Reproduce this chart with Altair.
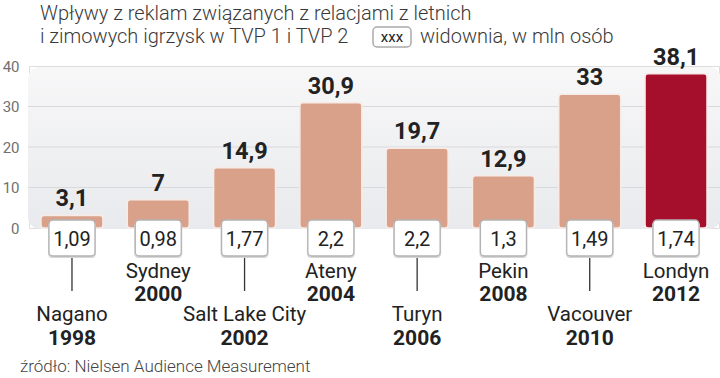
import altair as alt
import pandas as pd

cities = ["Nagano", "Sydney", "Salt Lake City", "Ateny", "Turyn", "Pekin", "Vacouver", "Londyn"]
years = [1998, 2000, 2002, 2004, 2006, 2008, 2010, 2012]
revenue = [3.1, 7, 14.9, 30.9, 19.7, 12.9, 33, 38.1]
viewers = [1.09, 0.98, 1.77, 2.2, 2.2, 1.3, 1.49, 1.74]
y_ticks = [0, 10, 20, 30, 40]
grid_vals = [10, 20, 30]

title1 = "Wpływy z reklam związanych z relacjami z letnich"
title2a = "i zimowych igrzysk w TVP 1 i TVP 2"
legend_box = "xxx"
title2b = "widownia, w mln osób"
source = "źródło: Nielsen Audience Measurement"

df = pd.DataFrame({
    "city": cities,
    "year": [str(y) for y in years],
    "rev": revenue,
    "view": viewers,
})
df["low"] = [i % 2 == 0 for i in range(len(df))]
df["hl"] = [y == max(years) for y in years]

FONT = "Roboto"
W, H = 690, 162

x = alt.X("city:N", sort=None, axis=None,
          scale=alt.Scale(paddingInner=0.282, paddingOuter=0.139))

base = alt.Chart(df)

bg = alt.Chart(pd.DataFrame({"a": [0]})).mark_rect(
    cornerRadius=12,
    color=alt.LinearGradient(
        gradient="linear",
        stops=[alt.GradientStop(color="#f7f7f8", offset=0),
               alt.GradientStop(color="#e9eaed", offset=1)],
        x1=0, x2=0, y1=0, y2=1,
    ),
).encode(x=alt.value(-1), x2=alt.value(W + 2), y=alt.value(1), y2=alt.value(H + 1))

grid = alt.Chart(pd.DataFrame({"g": grid_vals})).mark_rule(
    color="#d9d9db", strokeWidth=1.2
).encode(
    y=alt.Y("g:Q", scale=alt.Scale(domain=[0, 40]),
            axis=alt.Axis(values=y_ticks, grid=False, domain=False, ticks=False,
                          labelFont=FONT, labelFontSize=15, labelColor="#707070",
                          labelPadding=10, title=None)),
    x=alt.value(-1), x2=alt.value(W + 1),
)

bars = base.mark_bar(cornerRadius=3, stroke="#f8ebe6", strokeWidth=1.5).encode(
    x=x,
    y=alt.Y("rev:Q", scale=alt.Scale(domain=[0, 40])),
    y2=alt.datum(0),
    color=alt.condition("datum.hl", alt.value("#a50f2c"), alt.value("#d9a08a")),
)

vlabels = base.transform_calculate(
    lab="replace('' + datum.rev, '.', ',')"
).mark_text(font=FONT, fontWeight="bold", fontSize=23.5, color="#222222",
            baseline="alphabetic", dy=-9).encode(
    x=x, y=alt.Y("rev:Q"), text="lab:N")

shadow = base.mark_bar(size=48, cornerRadius=4, color="#d6d6d6").encode(
    x=x, y=alt.value(155.5), y2=alt.value(192))

boxes = base.mark_bar(size=46, cornerRadius=4, fill="white", stroke="#b3b3b3",
                      strokeWidth=1.3).encode(
    x=x, y=alt.value(154), y2=alt.value(190))

btext = base.transform_calculate(
    lab="replace('' + datum.view, '.', ',')"
).mark_text(font=FONT, fontSize=20, color="#222222", baseline="alphabetic").encode(
    x=x, y=alt.value(179.5), text="lab:N")

lines = base.transform_filter("datum.low").mark_rule(color="#333333", strokeWidth=1.3).encode(
    x=x, y=alt.value(192), y2=alt.value(225))

city_hi = base.transform_filter("!datum.low").mark_text(
    font=FONT, fontSize=20.5, color="#222222", baseline="alphabetic").encode(
    x=x, y=alt.value(211.5), text="city:N")
year_hi = base.transform_filter("!datum.low").mark_text(
    font=FONT, fontSize=21, fontWeight="bold", color="#222222", baseline="alphabetic").encode(
    x=x, y=alt.value(235), text="year:N")
city_lo = base.transform_filter("datum.low").mark_text(
    font=FONT, fontSize=20.5, color="#222222", baseline="alphabetic").encode(
    x=x, y=alt.value(255), text="city:N")
year_lo = base.transform_filter("datum.low").mark_text(
    font=FONT, fontSize=21, fontWeight="bold", color="#222222", baseline="alphabetic").encode(
    x=x, y=alt.value(278.5), text="year:N")

one = pd.DataFrame({"a": [0]})
t1 = alt.Chart(one).mark_text(font=FONT, fontWeight=300, fontSize=20, color="#3a3a3a",
                              align="left", baseline="alphabetic", text=title1).encode(
    x=alt.value(11), y=alt.value(-46))
t2a = alt.Chart(one).mark_text(font=FONT, fontWeight=300, fontSize=20, color="#3a3a3a",
                               align="left", baseline="alphabetic", text=title2a).encode(
    x=alt.value(11), y=alt.value(-23))
lbox = alt.Chart(one).mark_rect(fill="white", stroke="#aaaaaa", strokeWidth=1.5,
                                cornerRadius=4).encode(
    x=alt.value(344), x2=alt.value(382), y=alt.value(-39), y2=alt.value(-19))
ltext = alt.Chart(one).mark_text(font=FONT, fontSize=15, color="#222222",
                                 align="center", baseline="alphabetic", text=legend_box).encode(
    x=alt.value(363), y=alt.value(-24))
t2b = alt.Chart(one).mark_text(font=FONT, fontWeight=300, fontSize=20, color="#3a3a3a",
                               align="left", baseline="alphabetic", text=title2b).encode(
    x=alt.value(391), y=alt.value(-23))
src = alt.Chart(one).mark_text(font=FONT, fontWeight=300, fontSize=17, color="#444444",
                               align="left", baseline="alphabetic", text=source).encode(
    x=alt.value(-9), y=alt.value(306))

chart = alt.layer(
    bg, grid, bars, vlabels, lines, shadow, boxes, btext,
    city_hi, year_hi, city_lo, year_lo, t1, t2a, lbox, ltext, t2b, src
).properties(
    width=W, height=H,
    autosize=alt.AutoSizeParams(type="none"),
    padding={"left": 29, "top": 66, "right": 1, "bottom": 150},
).configure_view(stroke=None, clip=False).configure(background="white")

chart.save("out.html", embed_options={"renderer": "svg", "actions": False})
